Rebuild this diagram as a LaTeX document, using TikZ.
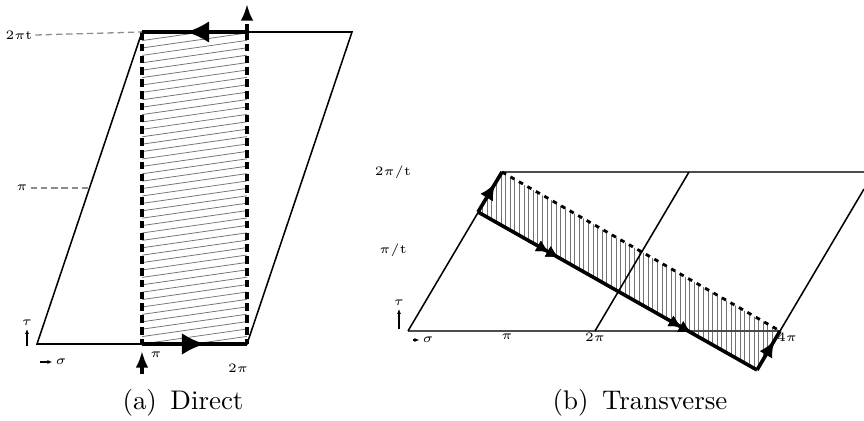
\documentclass[tikz,border=0pt]{standalone}
\usepackage{amsmath}
\usepackage{tikz}
\usetikzlibrary{
arrows.meta,
calc,
decorations.markings
}
\definecolor{hatchgray}{gray}{0.45}
\definecolor{guidegray}{gray}{0.55}
\definecolor{axisgray}{gray}{0.30}

\begin{document}
\begin{tikzpicture}[x=0.0137cm, y=0.0137cm,
  edge/.style={line width=0.6pt},
  axis/.style={line width=0.8pt, axisgray},
  path/.style={line width=1.4pt},
  stripedge/.style={line width=1.4pt, dash pattern=on 3pt off 1.6pt},
  slicedash/.style={line width=1.1pt, dash pattern=on 1.8pt off 2pt},
  guide/.style={guidegray, line width=0.5pt, dash pattern=on 2.5pt off 1.5pt},
  hatch/.style={hatchgray, line width=0.3pt},
  tick/.style={font=\fontsize{4.4}{5}\selectfont, inner sep=1pt},
  caption/.style={font=\fontsize{10.5}{12}\selectfont, inner sep=1pt},
  unitarrow/.style={line width=0.4pt, -{Latex[length=2pt, width=1.6pt]}},
  bigmid/.style={postaction={decorate}, decoration={markings,
      mark=at position #1 with {\arrow{Latex[length=9pt, width=8.5pt]}}}},
  smallmid/.style={postaction={decorate}, decoration={markings,
      mark=at position #1 with {\arrow{Latex[length=6.5pt, width=5.8pt]}}}},
  doublemid/.style 2 args={postaction={decorate}, decoration={markings,
      mark=at position #1 with {\arrow{Latex[length=5pt, width=5pt]}},
      mark=at position #2 with {\arrow{Latex[length=5pt, width=5pt]}}}}
]
\useasboundingbox (0,0) rectangle (864,420);

%% (a) Direct: corners of the cell
\coordinate (a0)   at (37,76);
\coordinate (api)  at (142,76);
\coordinate (a2pi) at (247,76);
\coordinate (atl)  at (142,388);
\coordinate (atm)  at (247,388);
\coordinate (atr)  at (352,388);
\coordinate (ain)  at (142,46);
\coordinate (ainto) at (142,69);
\coordinate (aout) at (247,416);
\coordinate (amid) at ($(a0)!0.5!(atl)$);

%% hatched strip
\begin{scope}
  \clip (api) rectangle (atm);
  \foreach \k in {-3,...,43}
    \draw[hatch] (142,76+7.4*\k) -- (247,91+7.4*\k);
\end{scope}

\draw[edge] (a0) -- (a2pi) -- (atr) -- (atl) -- cycle;
\draw[path, bigmid=0.6] (api) -- (a2pi);
\draw[path, bigmid=0.58] (atm) -- (atl);
\draw[stripedge] (atl) -- (api);
\draw[stripedge] (atm) -- (a2pi);
\draw[stripedge, -{Latex[length=6.5pt, width=5pt]}] (ain) -- (ainto);
\draw[stripedge, -{Latex[length=6.5pt, width=5pt]}] (atm) -- (aout);

%% labels
\node[tick] (a2pit) at (19,385) {$2\pi\mathrm{t}$};
\draw[guide] (a2pit.east) -- (atl);
\node[tick] (api lbl) at (22,232) {$\pi$};
\draw[guide] (api lbl.east) -- (amid);
\node[tick] (atau) at (27,97) {$\tau$};
\coordinate (atau0) at (27,74);
\draw[unitarrow] (atau0) -- (atau.south);
\node[tick] (asigma) at (61,58) {$\sigma$};
\coordinate (asigma0) at (40,58);
\draw[unitarrow] (asigma0) -- (asigma.west);
\node[tick] (api bot) at (156,65) {$\pi$};
\node[tick] (a2pi bot) at (238,52) {$2\pi$};
\node[caption] (capa) at (183,17) {(a)\enspace Direct};

%% (b) Transverse: corners of the cells
\coordinate (b0)   at (408,89);
\coordinate (b2pi) at (595,89);
\coordinate (b4pi) at (780,89);
\coordinate (btl)  at (502,248);
\coordinate (btm)  at (689,248);
\coordinate (btr)  at (864,248);
\coordinate (bedge) at (864,231);
\coordinate (bp)   at (478,208);
\coordinate (bq)   at (757,50);

%% hatched slice
\begin{scope}
  \clip (bp) -- (btl) -- (b4pi) -- (bq) -- cycle;
  \foreach \x in {478,482.6,...,784}
    \draw[hatch] (\x,40) -- (\x,260);
\end{scope}

\draw[axis] (b0) -- (b4pi);
\draw[axis] (btl) -- (btr);
\draw[edge] (b0) -- (btl);
\draw[edge] (b2pi) -- (btm);
\draw[edge] (b4pi) -- (bedge);
\draw[slicedash] (btl) -- (b4pi);
\draw[path, doublemid={0.255}{0.29}, doublemid={0.73}{0.765}] (bp) -- (bq);
\draw[path, smallmid=0.72] (bp) -- (btl);
\draw[path, smallmid=0.76] (bq) -- (b4pi);

%% labels
\node[tick] (b2pit) at (393,248) {$2\pi/\mathrm{t}$};
\node[tick] (bpit) at (393,170) {$\pi/\mathrm{t}$};
\node[tick] (btau) at (399,117) {$\tau$};
\coordinate (btau0) at (399,91);
\draw[unitarrow] (btau0) -- (btau.south);
\node[tick] (bsigma) at (428,80) {$\sigma$};
\coordinate (bsigma0) at (413,80);
\draw[unitarrow] (bsigma0) -- (bsigma.west);
\node[tick] (bpi lbl) at (507,83) {$\pi$};
\node[tick] (b2pi lbl) at (595,83) {$2\pi$};
\node[tick] (b4pi lbl) at (787,83) {$4\pi$};
\node[caption] (capb) at (640,17) {(b)\enspace Transverse};

\end{tikzpicture}
\end{document}
